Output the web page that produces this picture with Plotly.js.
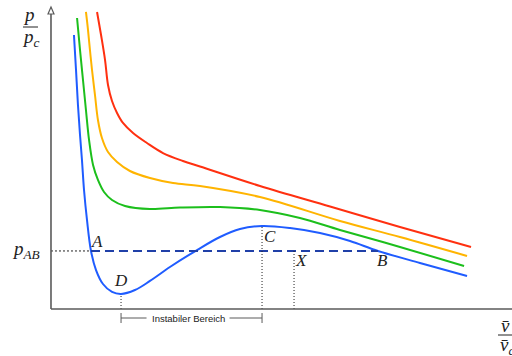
<!DOCTYPE html>
<html><head><meta charset="utf-8">
<script src="https://cdn.plot.ly/plotly-3.0.1.min.js"></script>
<style>html,body{margin:0;padding:0;background:#fff}#plot{width:512px;height:356px}</style>
</head><body><div id="plot"></div>
<script>
// Van-der-Waals-Isothermen im reduzierten p-v-Diagramm (v/v_c, p/p_c)
const vRed = [0.357,0.388,0.419,0.442,0.473,0.512,0.558,0.636,0.744,0.868,1.023,1.155,1.620,2.163,2.705,3.256];
const pRed = [2.912,2.686,2.441,2.196,2.039,1.922,1.824,1.725,1.627,1.529,1.451,1.397,1.206,1.005,0.804,0.608];
const vYellow = [0.271,0.287,0.302,0.318,0.341,0.364,0.395,0.442,0.512,0.612,0.767,0.946,1.155,1.620,2.240,2.705,3.225];
const pYellow = [2.912,2.735,2.539,2.343,2.098,1.853,1.676,1.539,1.441,1.353,1.284,1.235,1.206,1.098,0.863,0.706,0.520];
const vGreen = [0.202,0.225,0.248,0.271,0.295,0.326,0.364,0.411,0.473,0.574,0.767,1.000,1.310,1.620,1.930,2.240,2.705,3.202];
const pGreen = [2.853,2.539,2.245,1.951,1.657,1.412,1.265,1.147,1.069,1.010,0.980,0.995,1.000,0.971,0.892,0.775,0.608,0.422];
const vBlue = [0.178,0.194,0.209,0.225,0.240,0.256,0.279,0.310,0.349,0.403,0.473,0.543,0.651,0.767,0.922,1.132,1.310,1.465,1.636,1.853,2.085,2.318,2.535,2.860,3.225];
const pBlue = [2.686,2.343,2.000,1.706,1.461,1.167,0.873,0.569,0.382,0.245,0.167,0.147,0.186,0.275,0.412,0.578,0.706,0.784,0.814,0.794,0.745,0.667,0.569,0.451,0.324];

// Kennzeichnende Punkte auf der unterkritischen Isotherme
const pointNames = ['A', 'B', 'C', 'D', 'X'];
const pointV = [0.310, 2.535, 1.636, 0.543, 1.884];
const pointP = [0.569, 0.569, 0.814, 0.147, 0.569];
const pAB = 0.569;

const rangeX = [-0.3953, 3.5736];
const rangeY = [-0.4608, 3.0294];
const pxX = 129, pxY = 102;           // Pixel je Einheit
const axisColor = '#5a5a5a';

const idx = n => pointNames.indexOf(n);
const vA = pointV[idx('A')], vB = pointV[idx('B')];
const vC = pointV[idx('C')], vD = pointV[idx('D')];

const iso = (v, p, color) => ({
  x: v, y: p, mode: 'lines', hoverinfo: 'skip',
  line: {color: color, width: 2, shape: 'spline', smoothing: 1}
});

const drops = {x: [], y: []};
['D', 'C', 'X'].forEach(n => {
  const i = idx(n);
  drops.x.push(pointV[i], pointV[i], null);
  drops.y.push(0, pointP[i], null);
});

const traces = [
  iso(vRed, pRed, '#ff3010'),
  iso(vYellow, pYellow, '#ffb400'),
  iso(vGreen, pGreen, '#1cbf1c'),
  iso(vBlue, pBlue, '#1f5cff'),
  {x: [0, vA], y: [pAB, pAB], mode: 'lines', hoverinfo: 'skip',
   line: {color: '#222', width: 1, dash: '2px,2px'}},
  {x: [vA, vB], y: [pAB, pAB], mode: 'lines', hoverinfo: 'skip',
   line: {color: '#2040a8', width: 2, dash: '9px,5px'}},
  {x: drops.x, y: drops.y, mode: 'lines', hoverinfo: 'skip',
   line: {color: '#222', width: 1, dash: '1px,2px'}}
];

// Achsen, Pfeilspitze, Bruchstriche, Klammer
const yTop = 299 / pxY;
const tipY = 302 / pxY, baseY = 295 / pxY, halfW = 3 / pxX;
const bracketY = -9 / pxY, tickH = 5 / pxY;
const mid = (vD + vC) / 2;
const line = (x0, y0, x1, y1, w, c) => ({type: 'line', x0, y0, x1, y1,
  xref: 'x', yref: 'y', line: {color: c || axisColor, width: w}});
const shapes = [
  line(0, 0, rangeX[1], 0, 1.6),
  line(0, 0, 0, yTop, 1.6),
  {type: 'path', xref: 'x', yref: 'y',
   path: `M ${-halfW} ${baseY} L 0 ${tipY} L ${halfW} ${baseY} Z`,
   fillcolor: '#fff', line: {color: axisColor, width: 1.2}},
  line(-28 / pxX, 282 / pxY, -13 / pxX, 282 / pxY, 1, '#222'),
  line(447 / pxX, -26 / pxY, rangeX[1], -26 / pxY, 1, '#222'),
  line(vD, bracketY - tickH, vD, bracketY + tickH, 1),
  line(vC, bracketY - tickH, vC, bracketY + tickH, 1),
  line(vD, bracketY, mid - 45 / pxX, bracketY, 1),
  line(mid + 38 / pxX, bracketY, vC, bracketY, 1)
];

const serif = {family: 'Liberation Serif, serif', size: 17, color: '#222'};
const serifBig = {family: 'Liberation Serif, serif', size: 19, color: '#222'};
const labelShift = {A: [6, 9], B: [4, -10], C: [8, -11], D: [0, 14], X: [7, -10]};
const annotations = pointNames.map((n, i) => ({
  x: pointV[i], y: pointP[i], xref: 'x', yref: 'y', showarrow: false,
  text: '<i>' + n + '</i>', font: serif,
  xshift: labelShift[n][0], yshift: labelShift[n][1]
}));
annotations.push(
  {x: -25 / pxX, y: pAB, xref: 'x', yref: 'y', showarrow: false,
   text: '<i>p</i><sub><i>AB</i></sub>', font: serifBig, yshift: 1},
  {x: -22 / pxX, y: 295 / pxY, xref: 'x', yref: 'y', showarrow: false,
   text: '<i>p</i>', font: serifBig},
  {x: -20 / pxX, y: 271 / pxY, xref: 'x', yref: 'y', showarrow: false,
   text: '<i>p</i><sub><i>c</i></sub>', font: serifBig},
  {x: 454 / pxX, y: -16 / pxY, xref: 'x', yref: 'y', showarrow: false,
   text: '<i>v\u0304</i>', font: serifBig},
  {x: 456 / pxX, y: -37 / pxY, xref: 'x', yref: 'y', showarrow: false,
   text: '<i>v\u0304</i><sub><i>c</i></sub>', font: serifBig},
  {x: mid, y: bracketY, xref: 'x', yref: 'y', showarrow: false, xshift: -3,
   text: 'Instabiler Bereich',
   font: {family: 'Liberation Sans, Arial, sans-serif', size: 9.5, color: '#222'}}
);

const layout = {
  width: 512, height: 356,
  margin: {l: 0, r: 0, t: 0, b: 0},
  paper_bgcolor: '#fff', plot_bgcolor: '#fff',
  showlegend: false,
  xaxis: {range: rangeX, visible: false, fixedrange: true},
  yaxis: {range: rangeY, visible: false, fixedrange: true},
  shapes: shapes,
  annotations: annotations
};

Plotly.newPlot('plot', traces, layout, {staticPlot: true});
</script>
</body></html>
